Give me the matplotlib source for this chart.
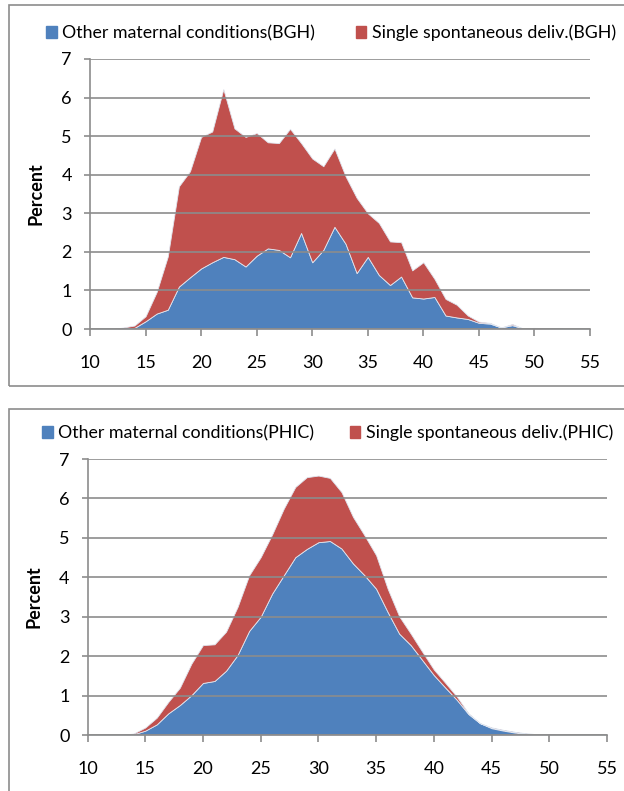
import matplotlib.pyplot as plt
from matplotlib.patches import Rectangle

ages = list(range(10, 56))

# BGH panel (top), percent by age 10..55
bgh_other = [0, 0, 0, 0.01, 0.03, 0.2, 0.4, 0.5, 1.1, 1.34,
             1.57, 1.73, 1.87, 1.81, 1.62, 1.9, 2.09, 2.05, 1.86, 2.49,
             1.73, 2.05, 2.65, 2.21, 1.45, 1.87, 1.4, 1.14, 1.36, 0.82,
             0.79, 0.83, 0.35, 0.3, 0.26, 0.16, 0.14, 0.04, 0.1, 0.01,
             0.0, 0.01, 0.01, 0, 0, 0]
bgh_total = [0, 0, 0, 0.04, 0.09, 0.33, 0.96, 1.88, 3.7, 4.09,
             4.98, 5.12, 6.22, 5.2, 4.98, 5.08, 4.84, 4.82, 5.19, 4.82,
             4.42, 4.22, 4.68, 3.96, 3.4, 3.0, 2.75, 2.27, 2.25, 1.52,
             1.73, 1.3, 0.78, 0.63, 0.35, 0.19, 0.16, 0.04, 0.13, 0.01,
             0.03, 0.02, 0.01, 0, 0, 0]
bgh_single = [t - o for t, o in zip(bgh_total, bgh_other)]

# PHIC panel (bottom)
phic_other = [0, 0, 0, 0, 0.02, 0.11, 0.27, 0.55, 0.76, 1.01,
              1.32, 1.37, 1.63, 2.03, 2.64, 3.0, 3.59, 4.05, 4.51, 4.72,
              4.89, 4.92, 4.73, 4.35, 4.05, 3.71, 3.12, 2.57, 2.28, 1.9,
              1.52, 1.2, 0.89, 0.53, 0.3, 0.19, 0.13, 0.08, 0.04, 0.02,
              0.01, 0, 0, 0, 0, 0]
phic_total = [0, 0, 0, 0, 0.04, 0.19, 0.44, 0.84, 1.2, 1.81,
              2.28, 2.3, 2.62, 3.25, 4.05, 4.51, 5.09, 5.74, 6.29, 6.54,
              6.58, 6.52, 6.16, 5.53, 5.06, 4.56, 3.71, 3.01, 2.57, 2.11,
              1.66, 1.32, 0.97, 0.55, 0.3, 0.17, 0.11, 0.06, 0.03, 0.01,
              0.0, 0, 0, 0, 0, 0]
phic_single = [t - o for t, o in zip(phic_total, phic_other)]

BLUE = "#4F81BD"
RED = "#C0504D"
GRID = "#8c8c8c"

W, H = 624, 791
plt.rcParams["font.family"] = ["Lato", "DejaVu Sans"]
fig = plt.figure(figsize=(W / 100, H / 100), dpi=100)


def px_axes(left, top, right, bottom):
    return fig.add_axes([left / W, 1 - bottom / H, (right - left) / W, (bottom - top) / H])


def draw_panel(ax, other, single):
    ax.stackplot(ages, other, single, colors=[BLUE, RED],
                 edgecolor="#dfe6f0", linewidth=0.6, zorder=2)
    ax.set_xlim(10, 55)
    ax.set_ylim(0, 7)
    ax.set_xticks(range(10, 56, 5))
    ax.set_yticks(range(0, 8))
    ax.tick_params(labelsize=13, colors=GRID, labelcolor="black", width=1.2)
    ax.tick_params(axis="x", length=5, pad=14)
    ax.tick_params(axis="y", length=4, pad=9)
    for s in ("top", "right"):
        ax.spines[s].set_visible(False)
    for s in ("left", "bottom"):
        ax.spines[s].set_color(GRID)
        ax.spines[s].set_linewidth(1.2)
    ax.grid(axis="y", color=GRID, linewidth=1.2)
    ax.set_axisbelow(False)
    for gl in ax.get_ygridlines():
        gl.set_zorder(0.5)
    ax.set_ylabel("Percent", fontsize=13, fontweight="bold", labelpad=12)
    return [Rectangle((0, 0), 1, 1, color=BLUE), Rectangle((0, 0), 1, 1, color=RED)]


def frame(top, bottom, left):
    fig.patches.append(Rectangle((left / W, 1 - bottom / H), (W - left + 5) / W,
                                 (bottom - top) / H, transform=fig.transFigure,
                                 fill=False, edgecolor=GRID, linewidth=1.2))


# top panel
frame(5, 386, 9)
ax1 = px_axes(90, 59, 590, 329)
h = draw_panel(ax1, bgh_other, bgh_single)
fig.legend(h, ["Other maternal conditions(BGH)", "Single spontaneous deliv.(BGH)"],
           loc="center left", bbox_to_anchor=(46 / W, 1 - 33 / H), ncol=2,
           frameon=False, fontsize=12.8, handlelength=0.6, handleheight=0.6,
           handletextpad=0.3, columnspacing=2.3, borderaxespad=0, borderpad=0)

# bottom panel
frame(409, 800, 9)
ax2 = px_axes(87.5, 459, 607, 735)
h = draw_panel(ax2, phic_other, phic_single)
fig.legend(h, ["Other maternal conditions(PHIC)", "Single spontaneous deliv.(PHIC)"],
           loc="center left", bbox_to_anchor=(42 / W, 1 - 433 / H), ncol=2,
           frameon=False, fontsize=12.8, handlelength=0.6, handleheight=0.6,
           handletextpad=0.3, columnspacing=2.0, borderaxespad=0, borderpad=0)

fig.savefig("out.png", dpi=100)
